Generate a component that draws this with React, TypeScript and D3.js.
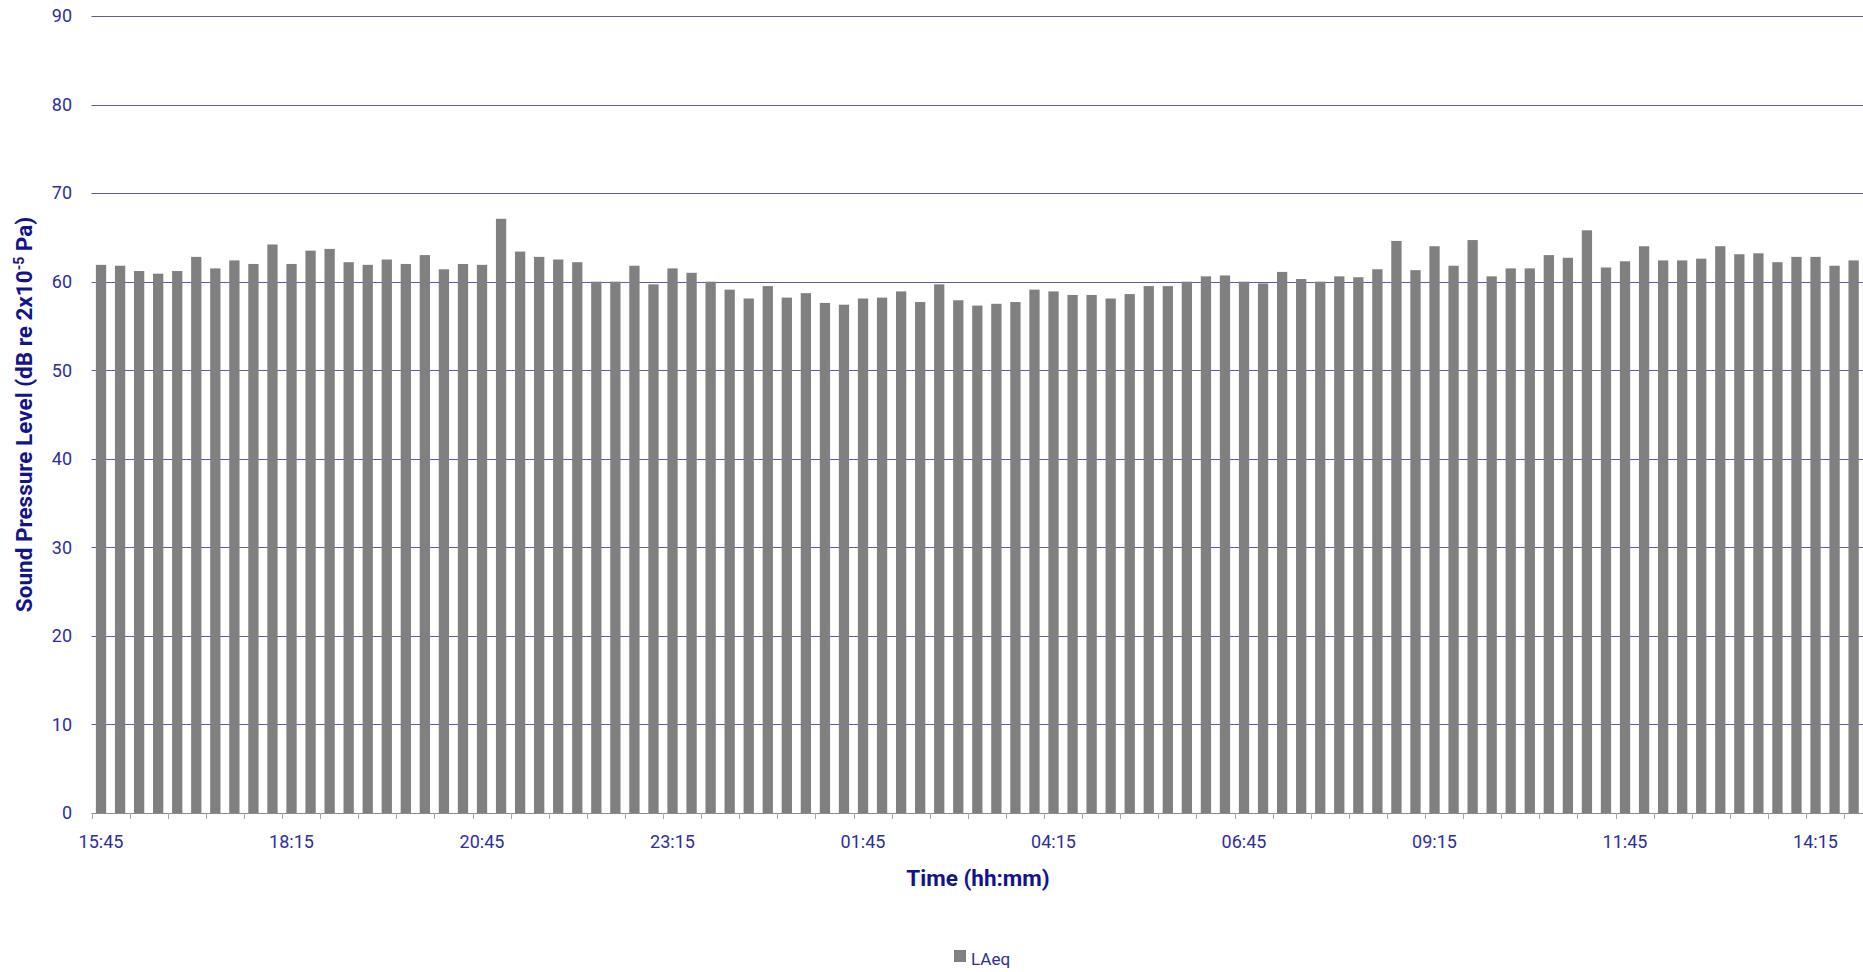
import React from "react";
import * as d3 from "d3";

const times: string[] = [
  "15:45","16:00","16:15","16:30","16:45","17:00","17:15","17:30","17:45","18:00",
  "18:15","18:30","18:45","19:00","19:15","19:30","19:45","20:00","20:15","20:30",
  "20:45","21:00","21:15","21:30","21:45","22:00","22:15","22:30","22:45","23:00",
  "23:15","23:30","23:45","00:00","00:15","00:30","00:45","01:00","01:15","01:30",
  "01:45","02:00","02:15","02:30","02:45","03:00","03:15","03:30","03:45","04:00",
  "04:15","04:30","04:45","05:00","05:15","05:30","05:45","06:00","06:15","06:30",
  "06:45","07:00","07:15","07:30","07:45","08:00","08:15","08:30","08:45","09:00",
  "09:15","09:30","09:45","10:00","10:15","10:30","10:45","11:00","11:15","11:30",
  "11:45","12:00","12:15","12:30","12:45","13:00","13:15","13:30","13:45","14:00",
  "14:15","14:30","14:45",
];

const laeq: number[] = [
  61.9, 61.8, 61.2, 60.9, 61.2, 62.8, 61.5, 62.4, 62.0, 64.2, 62.0, 63.5, 63.7, 62.2, 61.9, 62.5,
  62.0, 63.0, 61.4, 62.0, 61.9, 67.1, 63.4, 62.8, 62.5, 62.2, 60.0, 60.0, 61.8, 59.7, 61.5,
  61.0, 60.0, 59.1, 58.1, 59.5, 58.2, 58.7, 57.6, 57.4, 58.1, 58.2, 58.9, 57.7, 59.7, 57.9, 57.3,
  57.5, 57.7, 59.1, 58.9, 58.5, 58.5, 58.1, 58.6, 59.5, 59.5, 60.0, 60.6, 60.7, 60.0, 59.8,
  61.1, 60.3, 60.0, 60.6, 60.5, 61.4, 64.6, 61.3, 64.0, 61.8, 64.7, 60.6, 61.5, 61.5, 63.0, 62.7,
  65.8, 61.6, 62.3, 64.0, 62.4, 62.4, 62.6, 64.0, 63.1, 63.2, 62.2, 62.8, 62.8, 61.8, 62.4,
];

const xTickLabels: string[] = ["15:45","18:15","20:45","23:15","01:45","04:15","06:45","09:15","11:45","14:15"];
const yTicks: number[] = [0, 10, 20, 30, 40, 50, 60, 70, 80, 90];

const seriesName = "LAeq";
const yTitle = "Sound Pressure Level (dB re 2x10";
const xTitle = "Time (hh:mm)";

const W = 1863;
const H = 972;
const FONT = "Roboto, 'DejaVu Sans', sans-serif";
const TICK_COLOR = "#2e2e9c";
const TITLE_COLOR = "#13138a";
const GRID = "#5b5bb3";
const BAR = "#808080";

export default function App() {
  const left = 91.5;
  const step = 19.05;
  const right = left + step * times.length;
  const top = 16;
  const bottom = 813;

  const x = d3.scaleBand<string>().domain(times).range([left, right]).paddingInner(0.46).paddingOuter(0.23);
  const y = d3.scaleLinear().domain([0, 90]).range([bottom, top]);

  const tickIdx = d3.range(0, times.length + 1, 2);
  const bandStart = (i: number) => left + i * step;

  return (
    <svg
      width={W}
      height={H}
      style={{ position: "absolute", left: 0, top: 0, display: "block", background: "#fff" }}
      fontFamily={FONT}
    >
      {yTicks.filter((t) => t > 0).map((t) => (
        <line key={t} x1={left} x2={W} y1={Math.round(y(t)) + 0.5} y2={Math.round(y(t)) + 0.5} stroke={GRID} strokeWidth={1} />
      ))}
      {yTicks.map((t) => (
        <text key={t} x={72} y={y(t)} dy="0.35em" textAnchor="end" fontSize={18} fill={TICK_COLOR}>
          {t}
        </text>
      ))}
      {laeq.map((v, i) => (
        <rect key={i} x={x(times[i])!} width={x.bandwidth()} y={y(v)} height={bottom - y(v)} fill={BAR} />
      ))}
      <line x1={left} x2={W} y1={bottom + 0.5} y2={bottom + 0.5} stroke="#8c8c8c" strokeWidth={1} />
      {tickIdx.map((i) => (
        <line key={i} x1={Math.round(bandStart(i)) + 0.5} x2={Math.round(bandStart(i)) + 0.5} y1={bottom} y2={bottom + 6} stroke="#a8a8a8" strokeWidth={1} />
      ))}
      {xTickLabels.map((lab) => (
        <text key={lab} x={x(lab)! + x.bandwidth() / 2} y={848} textAnchor="middle" fontSize={18} fill={TICK_COLOR}>
          {lab}
        </text>
      ))}
      <text x={978} y={886} textAnchor="middle" fontSize={22.5} fontWeight="bold" fill={TITLE_COLOR}>
        {xTitle}
      </text>
      <text
        transform={`translate(32, ${(top + bottom) / 2}) rotate(-90)`}
        textAnchor="middle"
        fontSize={22.5}
        fontWeight="bold"
        fill={TITLE_COLOR}
      >
        {yTitle}
        <tspan dy={-8} fontSize={14}>-5</tspan>
        <tspan dy={8}> Pa)</tspan>
      </text>
      <rect x={954} y={950} width={12} height={12} fill={BAR} />
      <text x={971} y={965} fontSize={17} fill={TICK_COLOR}>
        {seriesName}
      </text>
    </svg>
  );
}
